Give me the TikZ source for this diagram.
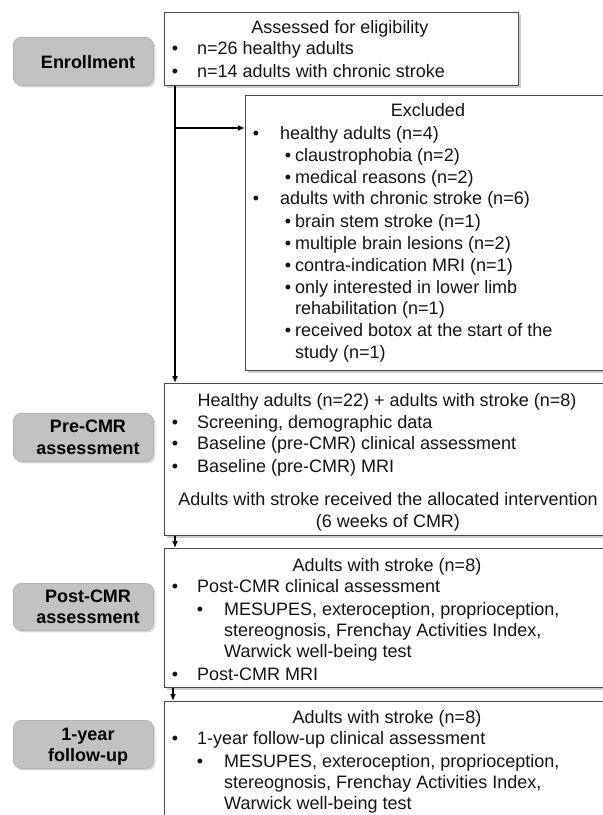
\documentclass[tikz,border=0pt]{standalone}
\usepackage{fontspec}
\setmainfont{Liberation Sans}
\usetikzlibrary{arrows.meta,shadows}
\begin{document}
\begin{tikzpicture}[x=1pt,y=-1pt,
  txt/.style={inner sep=0pt, font=\fontsize{18}{21.6}\selectfont, text=black!92},
  lt/.style={txt, anchor=base west},
  ct/.style={txt, anchor=base},
  pt/.style={txt, anchor=base, font=\fontsize{18}{21.6}\selectfont\bfseries, text=black},
  box/.style={draw=black!72, line width=1pt, fill=white, anchor=north west, inner sep=0pt,
    drop shadow={shadow xshift=2.5pt, shadow yshift=-2.5pt, fill=black!40}},
  pill/.style={draw=black!30, line width=0.8pt, fill=black!24, rounded corners=8pt, anchor=north west, inner sep=0pt,
    drop shadow={shadow xshift=2pt, shadow yshift=-2pt, fill=black!30}},
  arr/.style={draw=black, line width=2pt, -{Latex[length=7pt,width=6pt]}}
]
\useasboundingbox (0,0) rectangle (603,815);
\clip (0,0) rectangle (603,815);
\fill[white] (0,0) rectangle (603,815);

% stage pills
\node[pill, minimum width=140pt, minimum height=48pt] (penr) at (13,37) {};
\node[pill, minimum width=140pt, minimum height=48pt] (ppre) at (13,413) {};
\node[pill, minimum width=140pt, minimum height=47pt] (ppost) at (13,583) {};
\node[pill, minimum width=140pt, minimum height=48pt] (pfol) at (13,720) {};
\node[pt] (tenr) at (88,68) {Enrollment};
\node[pt] (tpre1) at (88,432) {Pre-CMR};
\node[pt] (tpre2) at (88,454) {assessment};
\node[pt] (tpost1) at (88,602) {Post-CMR};
\node[pt] (tpost2) at (88,623) {assessment};
\node[pt] (tfol1) at (88,740) {1-year};
\node[pt] (tfol2) at (88,761) {follow-up};

% boxes
\node[box, minimum width=354pt, minimum height=73pt] (assess) at (164,12) {};
\node[box, minimum width=366pt, minimum height=275pt] (excl) at (245,95) {};
\node[box, minimum width=446pt, minimum height=152pt] (pre) at (164,383) {};
\node[box, minimum width=446pt, minimum height=139pt] (post) at (164,548) {};
\node[box, minimum width=446pt, minimum height=140pt] (fol) at (164,701) {};

% connectors
\coordinate (br) at (175,128);
\draw[arr] ([xshift=11pt]assess.south west) -- ([xshift=11pt]pre.north west);
\draw[arr] (br) -- (br -| excl.west);
\draw[arr] ([xshift=11pt]pre.south west) -- ([xshift=11pt]post.north west);
\draw[arr] ([xshift=9pt]post.south west) -- ([xshift=9pt]fol.north west);

% assessed text
\node[ct] (a0) at (340,33) {Assessed for eligibility};
\node[ct] (ab1) at (175,54) {•};
\node[lt] (a1) at (197,54) {n=26 healthy adults};
\node[ct] (ab2) at (175,77) {•};
\node[lt] (a2) at (197,77) {n=14 adults with chronic stroke};

% excluded text
\node[ct] (e0) at (428,116) {Excluded};
\node[ct] (eb1) at (256,139) {•};
\node[lt] (e1) at (280,139) {healthy adults (n=4)};
\node[ct] (eb2) at (288,161) {•};
\node[lt] (e2) at (295,161) {claustrophobia (n=2)};
\node[ct] (eb3) at (288,183) {•};
\node[lt] (e3) at (295,183) {medical reasons (n=2)};
\node[ct] (eb4) at (256,204) {•};
\node[lt] (e4) at (280,204) {adults with chronic stroke (n=6)};
\node[ct] (eb5) at (288,227) {•};
\node[lt] (e5) at (295,227) {brain stem stroke (n=1)};
\node[ct] (eb6) at (288,249) {•};
\node[lt] (e6) at (295,249) {multiple brain lesions (n=2)};
\node[ct] (eb7) at (288,271) {•};
\node[lt] (e7) at (295,271) {contra-indication MRI (n=1)};
\node[ct] (eb8) at (288,293) {•};
\node[lt] (e8) at (295,293) {only interested in lower limb};
\node[lt] (e9) at (295,314) {rehabilitation (n=1)};
\node[ct] (eb10) at (288,336) {•};
\node[lt] (e10) at (295,336) {received botox at the start of the};
\node[lt] (e11) at (295,358) {study (n=1)};

% pre-CMR text
\node[ct] (r0) at (387,406) {Healthy adults (n=22) + adults with stroke (n=8)};
\node[ct] (rb1) at (175,428) {•};
\node[lt] (r1) at (197,428) {Screening, demographic data};
\node[ct] (rb2) at (175,449) {•};
\node[lt] (r2) at (197,449) {Baseline (pre-CMR) clinical assessment};
\node[ct] (rb3) at (175,472) {•};
\node[lt] (r3) at (197,472) {Baseline (pre-CMR) MRI};
\node[ct] (r4) at (388,505) {Adults with stroke received the allocated intervention};
\node[ct] (r5) at (388,527) {(6 weeks of CMR)};

% post-CMR text
\node[ct] (p0) at (387,571) {Adults with stroke (n=8)};
\node[ct] (pb1) at (175,592) {•};
\node[lt] (p1) at (197,592) {Post-CMR clinical assessment};
\node[ct] (pb2) at (200,615) {•};
\node[lt] (p2) at (224,615) {MESUPES, exteroception, proprioception,};
\node[lt] (p3) at (224,636) {stereognosis, Frenchay Activities Index,};
\node[lt] (p4) at (224,657) {Warwick well-being test};
\node[ct] (pb5) at (175,680) {•};
\node[lt] (p5) at (197,680) {Post-CMR MRI};

% follow-up text
\node[ct] (f0) at (387,723) {Adults with stroke (n=8)};
\node[ct] (fb1) at (175,744) {•};
\node[lt] (f1) at (197,744) {1-year follow-up clinical assessment};
\node[ct] (fb2) at (200,767) {•};
\node[lt] (f2) at (224,767) {MESUPES, exteroception, proprioception,};
\node[lt] (f3) at (224,788) {stereognosis, Frenchay Activities Index,};
\node[lt] (f4) at (224,809) {Warwick well-being test};
\end{tikzpicture}
\end{document}
